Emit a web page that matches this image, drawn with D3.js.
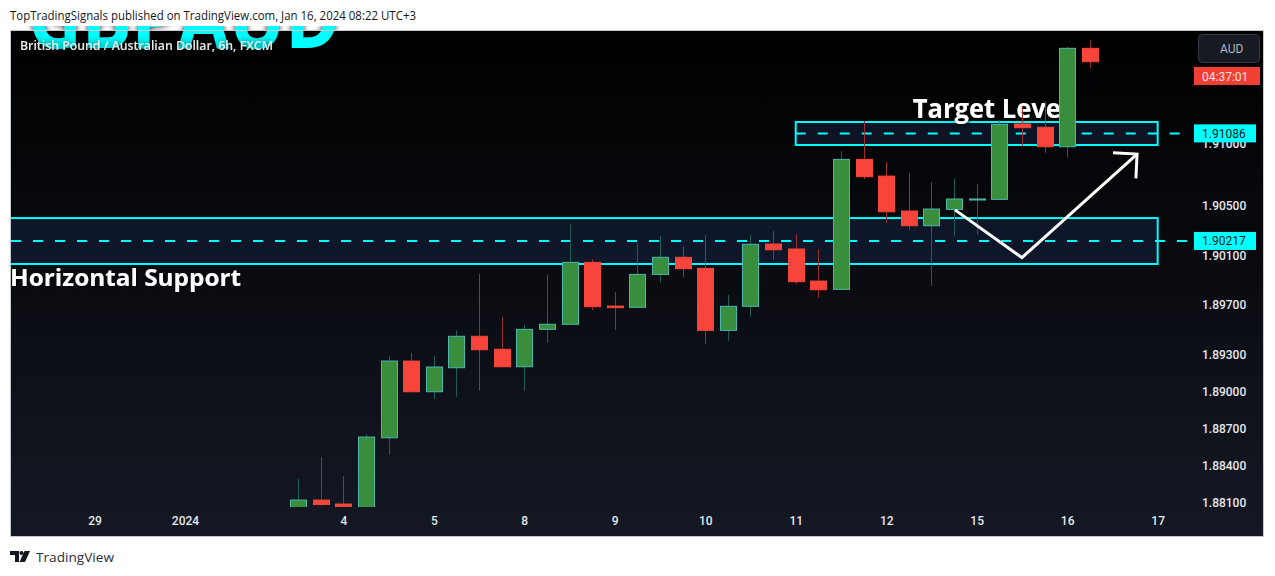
<!DOCTYPE html>
<html>
<head>
<meta charset="utf-8">
<script src="https://cdn.jsdelivr.net/npm/d3@7/dist/d3.min.js"></script>
<style>
  html, body { margin: 0; padding: 0; background: #ffffff; }
  svg { display: block; }
</style>
</head>
<body>
<svg id="chart" width="1275" height="576"></svg>
<script>
// ---------------- DATA ----------------
const firstIndex = -2; // candle index of first bar (index 0 = Jan 4 00:00)
const opens  = [1.88060,1.88124,1.88092,1.88065,1.88627,1.89247,1.88999,1.89193,1.89447,1.89342,1.89201,1.89503,1.89544,1.90044,1.89691,1.89681,1.89947,1.90085,1.89996,1.89495,1.89689,1.90192,1.90152,1.89893,1.89826,1.90876,1.90741,1.90459,1.90340,1.90472,1.90553,1.90553,1.91162,1.91135,1.90978,1.91773];
const highs  = [1.88294,1.88472,1.88318,1.88655,1.89287,1.89312,1.89287,1.89497,1.89950,1.89602,1.89538,1.89942,1.90354,1.90070,1.89804,1.90200,1.90257,1.90168,1.90265,1.89780,1.90265,1.90297,1.90273,1.90152,1.90943,1.91188,1.90855,1.90766,1.90693,1.90717,1.90677,1.91194,1.91307,1.91345,1.91786,1.91840];
const lows   = [1.88050,1.88078,1.88060,1.88050,1.88488,1.88995,1.88940,1.88959,1.89007,1.89195,1.89007,1.89395,1.89540,1.89659,1.89500,1.89678,1.89880,1.89928,1.89387,1.89411,1.89605,1.90065,1.89869,1.89758,1.89823,1.90717,1.90364,1.90305,1.89853,1.90259,1.90267,1.90550,1.90986,1.90930,1.90889,1.91616];
const closes = [1.88124,1.88088,1.88070,1.88633,1.89247,1.88999,1.89199,1.89447,1.89338,1.89201,1.89503,1.89544,1.90044,1.89686,1.89678,1.89947,1.90085,1.89993,1.89495,1.89689,1.90190,1.90146,1.89888,1.89823,1.90876,1.90736,1.90453,1.90340,1.90475,1.90556,1.90556,1.91159,1.91132,1.90978,1.91773,1.91665];

const priceTicks = [1.91000,1.90500,1.90100,1.89700,1.89300,1.89000,1.88700,1.88400,1.88100];
const timeTickIdx = [-11,-7,0,4,8,12,16,20,24,28,32,36];
const timeTickLabels = ["29","2024","4","5","8","9","10","11","12","15","16","17"];

const supportZone = {x0: -20, x1: 36.0, top: 1.90402, bottom: 1.90031, level: 1.90217};
const targetZone  = {x0: 20.0, x1: 36.0, top: 1.91178, bottom: 1.90992, level: 1.91086};
const arrowPath = [[27.04,1.90468],[30.0,1.90082],[35.09,1.90919]];
const arrowHead = [[34.03,1.90930],[35.09,1.90919],[35.04,1.90723]];

const headerText = "TopTradingSignals published on TradingView.com, Jan 16, 2024 08:22 UTC+3";
const titleText = "British Pound / Australian Dollar, 6h, FXCM";
const watermark = "GBPAUD";
const currencyLabel = "AUD";
const countdown = "04:37:01";

// ---------------- LAYOUT ----------------
const frame = {left: 11, top: 31, right: 1263, bottom: 536};
const plot = {left: 11, top: 31, right: 1190, bottom: 507};

const svg = d3.select("#chart");
const defs = svg.append("defs");

const grad = defs.append("linearGradient").attr("id","bg").attr("x1",0).attr("y1",0).attr("x2",0).attr("y2",1);
grad.append("stop").attr("offset","0%").attr("stop-color","#000000");
grad.append("stop").attr("offset","100%").attr("stop-color","#141823");

defs.append("clipPath").attr("id","plotClip").append("rect")
  .attr("x",plot.left).attr("y",plot.top).attr("width",plot.right-plot.left).attr("height",plot.bottom-plot.top);
defs.append("clipPath").attr("id","axisClip").append("rect")
  .attr("x",plot.right).attr("y",plot.top).attr("width",frame.right-plot.right).attr("height",plot.bottom-plot.top);
defs.append("clipPath").attr("id","wmClip").append("rect")
  .attr("x",frame.left).attr("y",26).attr("width",400).attr("height",40);

const glow = defs.append("filter").attr("id","glow").attr("x","-20%").attr("y","-50%").attr("width","140%").attr("height","200%");
glow.append("feGaussianBlur").attr("in","SourceAlpha").attr("stdDeviation",3).attr("result","b");
glow.append("feFlood").attr("flood-color","#000").attr("flood-opacity",0.9);
glow.append("feComposite").attr("in2","b").attr("operator","in").attr("result","s");
const gm = glow.append("feMerge");
gm.append("feMergeNode").attr("in","s");
gm.append("feMergeNode").attr("in","SourceGraphic");

const tshadow = defs.append("filter").attr("id","tshadow").attr("x","-10%").attr("y","-30%").attr("width","120%").attr("height","160%");
tshadow.append("feGaussianBlur").attr("in","SourceAlpha").attr("stdDeviation",1.5).attr("result","b");
tshadow.append("feOffset").attr("in","b").attr("dx",1).attr("dy",1).attr("result","o");
tshadow.append("feFlood").attr("flood-color","#000").attr("flood-opacity",0.8);
tshadow.append("feComposite").attr("in2","o").attr("operator","in").attr("result","s");
const tm = tshadow.append("feMerge");
tm.append("feMergeNode").attr("in","s");
tm.append("feMergeNode").attr("in","SourceGraphic");

// scales
const x = d3.scaleLinear().domain([-14.69, 37.43]).range([plot.left, plot.right]);
const y = d3.scaleLinear().domain([1.88068, 1.91913]).range([plot.bottom, plot.top]);
const bodyW = 16;

// header
svg.append("text").attr("x",10).attr("y",20).text(headerText)
  .attr("font-family","Open Sans, sans-serif").attr("font-size",12.5).attr("fill","#131722")
  .attr("textLength",406).attr("lengthAdjust","spacingAndGlyphs");

// frame background
svg.append("rect").attr("x",frame.left).attr("y",frame.top)
  .attr("width",frame.right-frame.left).attr("height",frame.bottom-frame.top)
  .attr("fill","url(#bg)");

// plot contents
const g = svg.append("g").attr("clip-path","url(#plotClip)");

function zone(z){
  g.append("rect")
    .attr("x", x(z.x0)).attr("y", y(z.top))
    .attr("width", x(z.x1)-x(z.x0)).attr("height", y(z.bottom)-y(z.top))
    .attr("fill","rgba(24,40,78,0.42)").attr("stroke","#00ffff").attr("stroke-width",2);
  g.append("line")
    .attr("x1", Math.max(x(z.x0), plot.left)).attr("x2", plot.right)
    .attr("y1", y(z.level)).attr("y2", y(z.level))
    .attr("stroke","#00ffff").attr("stroke-width",2).attr("stroke-dasharray","10,12");
}
zone(supportZone);
zone(targetZone);

// annotation texts (beneath candles)
g.append("text").attr("x", x(25.17)).attr("y", y(1.91210)).text("Target Level")
  .attr("font-family","Open Sans, sans-serif").attr("font-weight",700).attr("font-size",26)
  .attr("fill","#ffffff").attr("textLength",156).attr("lengthAdjust","spacingAndGlyphs")
  .attr("filter","url(#tshadow)");
g.append("text").attr("x", x(-14.73)).attr("y", y(1.89853)).text("Horizontal Support")
  .attr("font-family","Open Sans, sans-serif").attr("font-weight",700).attr("font-size",24)
  .attr("fill","#ffffff").attr("textLength",231).attr("lengthAdjust","spacingAndGlyphs")
  .attr("filter","url(#tshadow)");

// candles
const candles = opens.map((o,k)=>({i:firstIndex+k, o, h:highs[k], l:lows[k], c:closes[k]}));
const cg = g.append("g");
cg.selectAll("line.wick").data(candles).join("line")
  .attr("class","wick")
  .attr("x1", d=>Math.round(x(d.i))+0.5).attr("x2", d=>Math.round(x(d.i))+0.5)
  .attr("y1", d=>y(d.h)).attr("y2", d=>y(d.l))
  .attr("stroke", d=> d.c>=d.o ? "#1d5f57" : "#9a2e2e").attr("stroke-width",1);
cg.selectAll("rect.body").data(candles).join("rect")
  .attr("class","body")
  .attr("x", d=>Math.round(x(d.i))+0.5-bodyW/2).attr("width", bodyW)
  .attr("y", d=>y(Math.max(d.o,d.c)))
  .attr("height", d=>Math.max(1, Math.abs(y(d.o)-y(d.c))))
  .attr("fill", d=> d.c>=d.o ? "#388e3c" : "#f7453b")
  .attr("stroke", d=> d.c>=d.o ? "#4db6ac" : "#f7453b").attr("stroke-width",1);

// arrow
const lineGen = d3.line().x(d=>x(d[0])).y(d=>y(d[1]));
g.append("path").attr("d", lineGen(arrowPath)).attr("fill","none")
  .attr("stroke","#ffffff").attr("stroke-width",3).attr("stroke-linejoin","miter");
g.append("path").attr("d", lineGen(arrowHead)).attr("fill","none")
  .attr("stroke","#ffffff").attr("stroke-width",3).attr("stroke-linejoin","miter");

// watermark and title
svg.append("g").attr("clip-path","url(#wmClip)").append("text")
  .attr("x",28).attr("y",48).text(watermark)
  .attr("font-family","Open Sans, sans-serif").attr("font-weight",700).attr("font-size",84)
  .attr("fill","#00ffff").attr("textLength",312).attr("lengthAdjust","spacingAndGlyphs")
  .attr("filter","url(#glow)");
svg.append("text").attr("x",20).attr("y",50).text(titleText)
  .attr("font-family","Open Sans, sans-serif").attr("font-weight",600).attr("font-size",12)
  .attr("fill","#e8e8e8").attr("textLength",253).attr("lengthAdjust","spacingAndGlyphs")
  .attr("filter","url(#glow)");

// right price axis
const ya = svg.append("g").attr("clip-path","url(#axisClip)")
  .append("g").attr("transform",`translate(${plot.right},0)`)
  .call(d3.axisRight(y).tickValues(priceTicks).tickFormat(d3.format(".5f")).tickSize(0).tickPadding(12));
ya.select(".domain").remove();
ya.selectAll("text").attr("font-family","Roboto, sans-serif").attr("font-size",12)
  .attr("fill","#e6e8ee").attr("font-weight",500);

// bottom time axis
const xa = svg.append("g").attr("transform",`translate(0,${plot.bottom})`)
  .call(d3.axisBottom(x).tickValues(timeTickIdx).tickFormat((d,k)=>timeTickLabels[k]).tickSize(0).tickPadding(9));
xa.select(".domain").remove();
xa.selectAll("text").attr("font-family","Roboto, sans-serif").attr("font-size",12)
  .attr("fill","#e6e8ee").attr("font-weight",500);

// AUD button
svg.append("rect").attr("x",1198.5).attr("y",34.5).attr("width",61).attr("height",28).attr("rx",4)
  .attr("fill","#171a23").attr("stroke","#363a45");
svg.append("text").attr("x",1220).attr("y",53).text(currencyLabel)
  .attr("font-family","Roboto, sans-serif").attr("font-size",12).attr("fill","#b2b5be");

// countdown label
svg.append("rect").attr("x",1194).attr("y",67).attr("width",66).attr("height",18).attr("fill","#f23f35");
svg.append("text").attr("x",1202).attr("y",80.5).text(countdown)
  .attr("font-family","Roboto, sans-serif").attr("font-size",12).attr("fill","#fde3e0");

// price line labels
[targetZone.level, supportZone.level].forEach(p=>{
  const yy = y(p);
  svg.append("rect").attr("x",1194).attr("y",yy-9).attr("width",62).attr("height",18).attr("fill","#00ffff");
  svg.append("text").attr("x",1202).attr("y",yy+4.5).text(d3.format(".5f")(p))
    .attr("font-family","Roboto, sans-serif").attr("font-size",12).attr("fill","#131722");
});

// frame border
svg.append("rect").attr("x",frame.left-0.5).attr("y",frame.top-0.5)
  .attr("width",frame.right-frame.left+1).attr("height",frame.bottom-frame.top+1)
  .attr("fill","none").attr("stroke","#c7c9d0").attr("stroke-width",1);

// footer logo
const logo = svg.append("g").attr("fill","#131722");
logo.append("path").attr("d","M10,551 H19 V562 H15 V555 H10 Z");
logo.append("circle").attr("cx",21.5).attr("cy",553).attr("r",2);
logo.append("path").attr("d","M24.5,551 H30 L25,562 H19.5 Z");
svg.append("text").attr("x",36).attr("y",562).text("TradingView")
  .attr("font-family","Open Sans, sans-serif").attr("font-size",13.5).attr("fill","#2a2e39")
  .attr("textLength",78).attr("lengthAdjust","spacingAndGlyphs");
</script>
</body>
</html>
